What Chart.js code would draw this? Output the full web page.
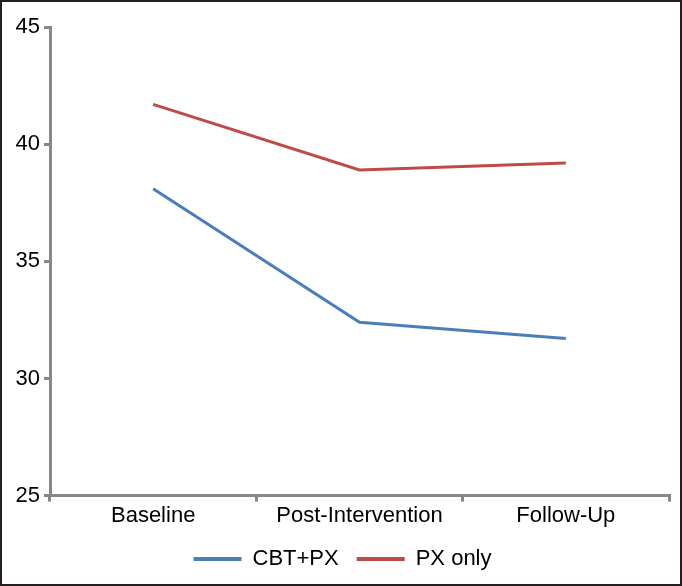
<!DOCTYPE html>
<html>
<head>
<meta charset="utf-8">
<script src="https://cdn.jsdelivr.net/npm/chart.js@4/dist/chart.umd.min.js"></script>
<style>
	html, body { margin: 0; padding: 0; background: #fff; }
	.wrap { position: relative; width: 682px; height: 586px; }
	.frame { position: absolute; inset: 0; border: 2px solid #231f20; box-sizing: border-box; pointer-events: none; }
</style>
</head>
<body>
<div class="wrap">
	<canvas id="chart" width="682" height="586"></canvas>
	<div class="frame"></div>
</div>
<script>
const categories = ['Baseline', 'Post-Intervention', 'Follow-Up'];
const cbtPx = [38.1, 32.4, 31.7];
const pxOnly = [41.7, 38.9, 39.2];
const yTicks = [25, 30, 35, 40, 45];

const axisColor = '#878787';
const font = { family: '"Liberation Sans", Arial, sans-serif', size: 22 };

function makeDataset(label, data, color) {
	return {
		label,
		data,
		borderColor: color,
		backgroundColor: color,
		borderWidth: 3,
		pointRadius: 0,
		tension: 0,
	};
}

new Chart(document.getElementById('chart'), {
	type: 'line',
	data: {
		labels: categories,
		datasets: [
			makeDataset('CBT+PX', cbtPx, '#4a7ebb'),
			makeDataset('PX only', pxOnly, '#be4b48'),
		],
	},
	options: {
		responsive: false,
		animation: false,
		// left padding + y axis width put the axis line at x=50
		layout: { padding: { top: 27, right: 13, left: 16, bottom: 6 } },
		plugins: {
			tooltip: { enabled: false },
			legend: {
				position: 'bottom',
				labels: {
					color: '#000',
					font,
					boxWidth: 48,
					boxHeight: 4,
					padding: 18,
					generateLabels(chart) {
						return Chart.defaults.plugins.legend.labels.generateLabels(chart)
							.map((item) => ({ ...item, lineWidth: 0 }));
					},
				},
			},
		},
		scales: {
			x: {
				offset: true,
				grid: {
					offset: true,
					drawOnChartArea: false,
					drawTicks: true,
					tickLength: 6,
					color: axisColor,
					lineWidth: 3,
				},
				border: { color: axisColor, width: 3 },
				ticks: { color: '#000', font, padding: 1, maxRotation: 0 },
			},
			y: {
				min: yTicks[0],
				max: yTicks[yTicks.length - 1],
				afterBuildTicks(scale) {
					scale.ticks = yTicks.map((value) => ({ value }));
				},
				afterFit(scale) {
					scale.width = 34;
				},
				grid: {
					drawOnChartArea: false,
					drawTicks: true,
					tickLength: 6,
					color: axisColor,
					lineWidth: 3,
				},
				border: { color: axisColor, width: 3 },
				ticks: { color: '#000', font, padding: 4 },
			},
		},
	},
});
</script>
</body>
</html>
